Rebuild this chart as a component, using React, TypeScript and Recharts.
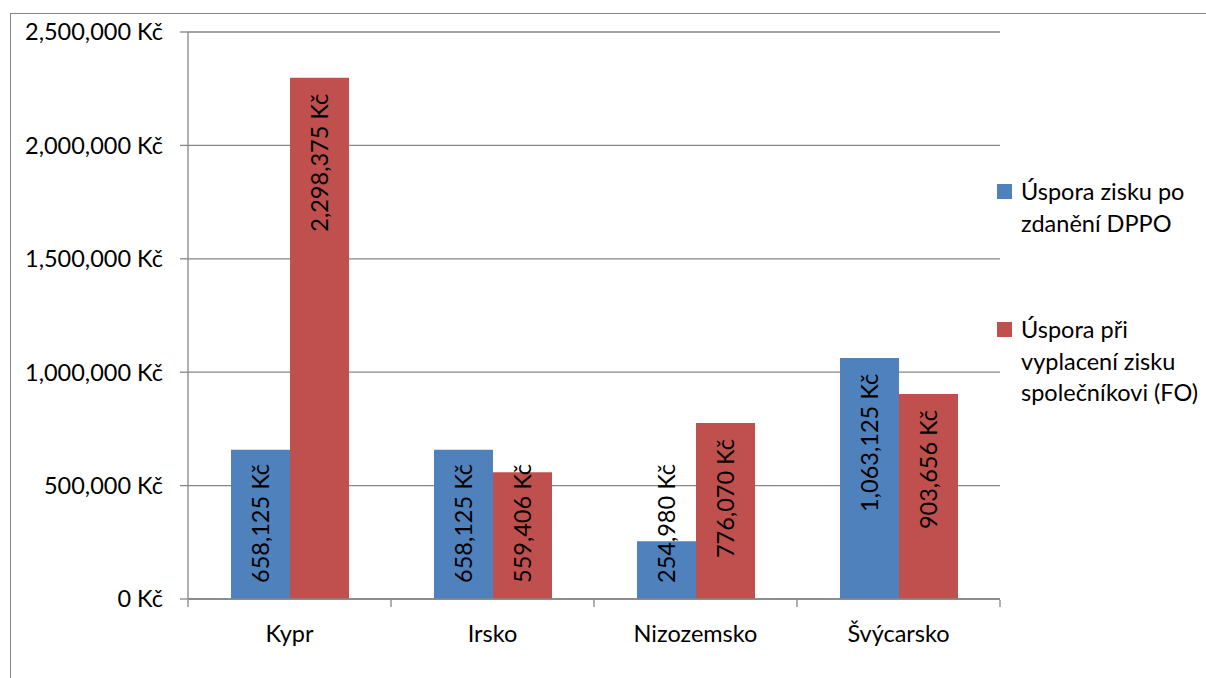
import React from 'react';
import { BarChart, Bar, XAxis, YAxis, CartesianGrid, LabelList } from 'recharts';

const categories = ['Kypr', 'Irsko', 'Nizozemsko', 'Švýcarsko'];
const dppoSavings = [658125, 658125, 254980, 1063125];
const foSavings = [2298375, 559406, 776070, 903656];
const yTicks = [0, 500000, 1000000, 1500000, 2000000, 2500000];
const seriesNames = ['Úspora zisku po zdanění DPPO', 'Úspora při vyplacení zisku společníkovi (FO)'];
const legendLines = [
  ['Úspora zisku po', 'zdanění DPPO'],
  ['Úspora při', 'vyplacení zisku', 'společníkovi (FO)'],
];
const edgeTicks = [0, 1, 2, 3, 4];

const BLUE = '#4F81BD';
const RED = '#C0504D';
const GREY = '#868686';
const FONT = 'Lato, "Open Sans", sans-serif';
const FS = 23.5;

const data = categories.map((name, i) => ({ name, idx: i + 0.5, dppo: dppoSavings[i], fo: foSavings[i] }));

const fmt = (v: number) => `${v.toLocaleString('en-US')} Kč`;

let ctx: CanvasRenderingContext2D | null = null;
function textWidth(s: string) {
  if (!ctx) {
    ctx = document.createElement('canvas').getContext('2d');
  }
  if (!ctx) return s.length * FS * 0.5;
  ctx.font = `${FS}px Lato`;
  return ctx.measureText(s).width;
}

function BarValue(props: any) {
  const { x, y, width, height, value } = props;
  const label = fmt(value);
  const len = textWidth(label);
  const cx = x + width / 2;
  const bottom = y + height;
  let top = y + 16;
  if (top + len > bottom - 16) top = bottom - 16 - len;
  const startY = top + len;
  return (
    <text
      x={cx}
      y={startY}
      transform={`rotate(-90 ${cx} ${startY})`}
      textAnchor="start"
      dy="0.36em"
      fontSize={FS}
      fontFamily={FONT}
      fill="#000"
    >
      {label}
    </text>
  );
}

function LegendBox() {
  return (
    <div style={{ fontFamily: FONT, fontSize: FS, color: '#000', lineHeight: '31.5px' }}>
      {legendLines.map((lines, i) => (
        <div key={seriesNames[i]} style={{ position: 'relative', paddingLeft: 24, marginBottom: i === 0 ? 75 : 0 }}>
          <span
            style={{
              position: 'absolute',
              left: 0,
              top: 8,
              width: 15,
              height: 15,
              background: i === 0 ? BLUE : RED,
            }}
          />
          {lines.map((l) => (
            <div key={l} style={{ whiteSpace: 'nowrap' }}>{l}</div>
          ))}
        </div>
      ))}
    </div>
  );
}

const NoTick = () => <g />;

export default function App() {
  return (
    <div style={{ position: 'absolute', left: 0, top: 0, width: 1206, height: 678, overflow: 'hidden', background: '#fff' }}>
      <div
        style={{
          position: 'absolute',
          left: 10,
          top: 13,
          width: 1400,
          height: 900,
          border: `1.5px solid ${GREY}`,
          boxSizing: 'border-box',
        }}
      />
      <div style={{ position: 'absolute', left: 0, top: 0 }}>
        <BarChart
          width={1206}
          height={678}
          data={data}
          margin={{ top: 32, right: 206, bottom: 18, left: 0 }}
          barCategoryGap={43}
          barGap={0}
        >
          <CartesianGrid vertical={false} stroke={GREY} strokeWidth={1.3} />
          <XAxis
            xAxisId="edges"
            type="number"
            dataKey="idx"
            domain={[0, 4]}
            ticks={edgeTicks}
            tick={NoTick}
            tickSize={7}
            axisLine={false}
            tickLine={{ stroke: GREY, strokeWidth: 1.3 }}
            height={60}
          />
          <XAxis
            dataKey="name"
            tickLine={false}
            tickSize={0}
            tickMargin={26}
            axisLine={{ stroke: GREY, strokeWidth: 1.3 }}
            tick={{ fill: '#000', fontSize: FS, fontFamily: FONT }}
            height={1}
          />
          <YAxis
            width={188}
            domain={[0, 2500000]}
            ticks={yTicks}
            tickFormatter={fmt}
            tickSize={8}
            tickMargin={17}
            axisLine={{ stroke: GREY, strokeWidth: 1.3 }}
            tickLine={{ stroke: GREY, strokeWidth: 1.3 }}
            tick={{ fill: '#000', fontSize: FS, fontFamily: FONT }}
          />
          <Bar dataKey="dppo" name={seriesNames[0]} fill={BLUE} isAnimationActive={false}>
            <LabelList dataKey="dppo" content={<BarValue />} />
          </Bar>
          <Bar dataKey="fo" name={seriesNames[1]} fill={RED} isAnimationActive={false}>
            <LabelList dataKey="fo" content={<BarValue />} />
          </Bar>
        </BarChart>
      </div>
      <div style={{ position: 'absolute', left: 997, top: 176, width: 209 }}>
        <LegendBox />
      </div>
    </div>
  );
}
